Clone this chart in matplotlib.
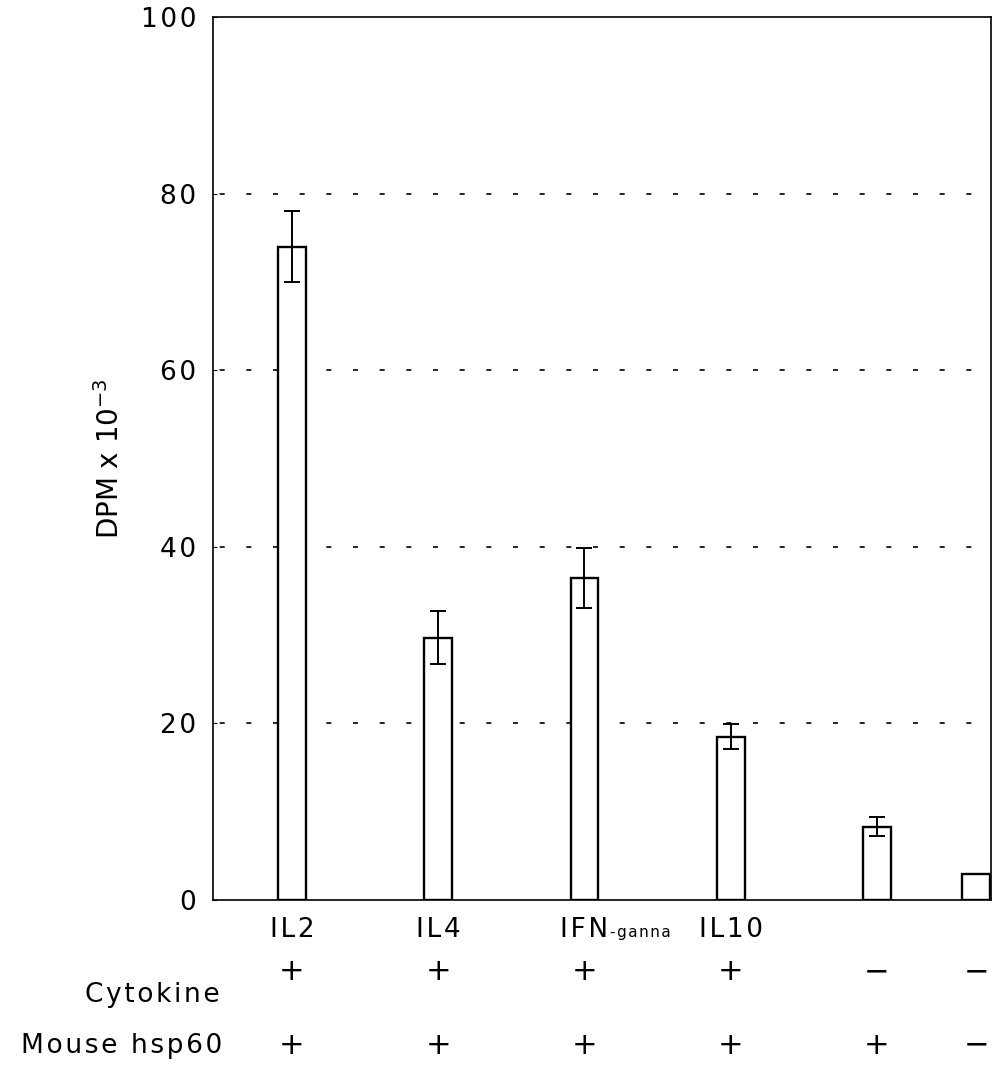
import matplotlib
matplotlib.use("Agg")
import matplotlib.pyplot as plt
from matplotlib.transforms import blended_transform_factory

# ---- data ----
labels = ["IL2", "IL4", "IFN", "IL10", "", ""]
values = [74.0, 29.7, 36.5, 18.5, 8.3, 2.9]
errors = [4.0, 3.0, 3.4, 1.4, 1.1, 0.0]
cytokine = ["+", "+", "+", "+", "\u2212", "\u2212"]
hsp60 = ["+", "+", "+", "+", "+", "\u2212"]
yticks = [0, 20, 40, 60, 80, 100]


def spaced(s):
    return "\u200a".join(s)


# ---- layout ----
xpos = [1, 2, 3, 4, 5, 5.68]
W, H = 993, 1070
plt.rcParams['font.family'] = ['DejaVu Sans']
fig = plt.figure(figsize=(W / 100, H / 100), dpi=100)
ax = fig.add_axes([213 / W, 1 - 900 / H, (991 - 213) / W, (900 - 17) / H])

ax.set_xlim(0.46, 5.78)
ax.set_ylim(0, 100)

# gridlines
for g in [20, 40, 60, 80]:
    ax.axhline(g, color="black", lw=1.2, linestyle=(12, (3, 13)), zorder=0)

ax.bar(xpos, values, width=0.19, color="white", edgecolor="black", linewidth=1.7, zorder=2)
for x, v, e in zip(xpos, values, errors):
    if e > 0:
        ax.errorbar(x, v, yerr=e, fmt="none", ecolor="black", elinewidth=1.4,
                    capsize=5.5, capthick=1.4, zorder=3)

for s in ax.spines.values():
    s.set_linewidth(1.2)
    s.set_color("black")

ax.set_yticks(yticks)
ax.set_yticklabels([spaced(str(t)) for t in yticks], fontsize=19)
ax.tick_params(axis="y", direction="in", length=3, pad=12)
ax.set_xticks([])

ax.set_ylabel("DPM x 10$^{\\mathregular{-3}}$", fontsize=20)
ax.yaxis.set_label_coords((125 - 213) / (991 - 213), 0.5)

tr = blended_transform_factory(ax.transData, fig.transFigure)
for x, lab in zip(xpos, labels):
    if lab:
        t = ax.text(x, 1 - 930 / H, spaced(lab), transform=tr, ha="center", va="center", fontsize=19)
        if lab == "IFN":
            ax.annotate(spaced("-ganna"), xy=(1, 0.12), xycoords=t, xytext=(1, 0),
                        textcoords="offset points", ha="left", va="bottom", fontsize=11)

for x, c in zip(xpos, cytokine):
    ax.text(x, 1 - 972 / H, c, transform=tr, ha="center", va="center", fontsize=22)
for x, c in zip(xpos, hsp60):
    ax.text(x, 1 - 1045 / H, c, transform=tr, ha="center", va="center", fontsize=22)

fig.text(220 / W, 1 - 995 / H, spaced("Cytokine"), ha="right", va="center", fontsize=19)
fig.text(222 / W, 1 - 1046 / H, spaced("Mouse hsp60"), ha="right", va="center", fontsize=19)

fig.savefig("out.png", dpi=100, facecolor="white")
